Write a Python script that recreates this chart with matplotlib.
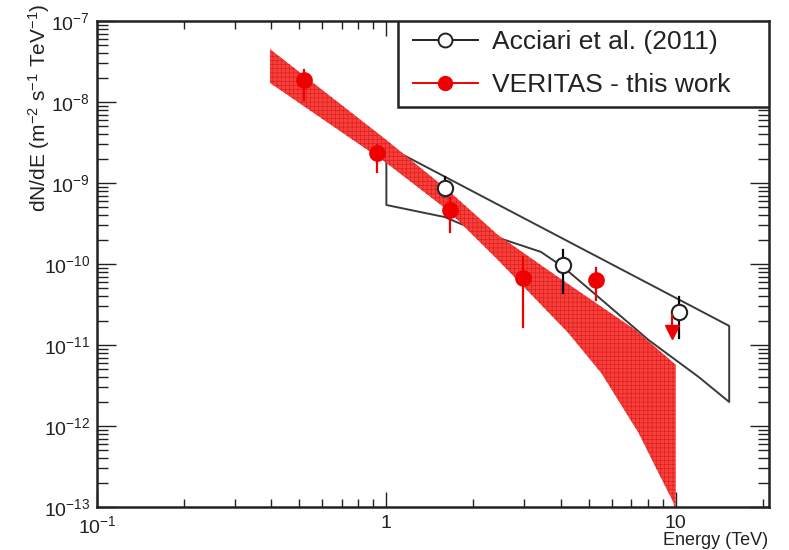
import numpy as np
import matplotlib
matplotlib.use('Agg')
from matplotlib import pyplot as plt
from matplotlib.lines import Line2D
from matplotlib.patches import Rectangle
from matplotlib.ticker import LogLocator, FuncFormatter

plt.rcParams['font.family'] = ['Liberation Sans', 'DejaVu Sans']
plt.rcParams['mathtext.fontset'] = 'custom'
plt.rcParams['mathtext.rm'] = 'Liberation Sans'
plt.rcParams['mathtext.it'] = 'Liberation Sans:italic'
plt.rcParams['mathtext.default'] = 'regular'
plt.rcParams['hatch.linewidth'] = 0.4

# VERITAS butterfly (upper / lower edges)
band_up_e = [0.396, 1.0, 1.63, 2.43, 3.92, 7.26, 10.0]
band_up_f = [4.5e-8, 3.4e-9, 8.2e-10, 2.28e-10, 6.9e-11, 1.53e-11, 5.7e-12]
band_lo_e = [0.396, 1.0, 1.63, 2.43, 4.25, 5.53, 7.44, 8.73, 9.84, 10.0]
band_lo_f = [1.72e-8, 1.77e-9, 4.6e-10, 1.12e-10, 1.41e-11, 4.5e-12, 8.2e-13, 2.6e-13, 1.12e-13, 5e-14]

# Acciari et al. (2011) butterfly
acc_up_e = [1.0, 15.3]
acc_up_f = [2.86e-9, 1.72e-11]
acc_lo_e = [1.0, 1.59, 1.81, 2.57, 3.42, 4.08, 5.40, 8.06, 12.0, 15.3]
acc_lo_f = [5.35e-10, 3.8e-10, 3.12e-10, 1.98e-10, 1.41e-10, 9.2e-11, 3.92e-11, 1.15e-11, 4.03e-12, 1.98e-12]

# VERITAS points
ver_e = [0.519, 0.93, 1.655, 2.97, 5.31]
ver_f = [1.87e-8, 2.34e-9, 4.64e-10, 6.7e-11, 6.3e-11]
ver_hi = [2.48e-8, 2.95e-9, 6.5e-10, 1.22e-10, 8.9e-11]
ver_lo = [1.06e-8, 1.37e-9, 2.48e-10, 1.67e-11, 3.6e-11]
ul_e = 9.67
ul_f = 1.44e-11
ul_top = 2.34e-11

# Acciari points
acc_e = [1.59, 4.08, 10.24]
acc_f = [8.7e-10, 9.7e-11, 2.55e-11]
acc_hi = [1.19e-9, 1.49e-10, 3.9e-11]
acc_lo = [6.9e-10, 4.4e-11, 1.22e-11]

labels = ['Acciari et al. (2011)', 'VERITAS - this work']

fig = plt.figure(figsize=(7.89, 5.50), dpi=100)
ax = fig.add_axes([97/789, 1-507/550, 672/789, 486/550])
ax.set_xscale('log')
ax.set_yscale('log')
ax.set_xlim(0.1, 21)
ax.set_ylim(1e-13, 1e-7)

# Acciari bowtie outline (closed)
poly_e = acc_up_e + acc_lo_e[::-1] + [acc_up_e[0]]
poly_f = acc_up_f + acc_lo_f[::-1] + [acc_up_f[0]]
ax.plot(poly_e, poly_f, color='#3a3a3a', lw=1.4, zorder=1)

# VERITAS band
be = band_up_e + band_lo_e[::-1]
bf = band_up_f + band_lo_f[::-1]
ax.fill(be, bf, facecolor='#f5403c', edgecolor='#dc1a1a', hatch='++++', lw=0, zorder=2)

# Acciari points
for e, f, hi, lo in zip(acc_e, acc_f, acc_hi, acc_lo):
    ax.plot([e, e], [lo, hi], color='black', lw=1.6, zorder=3)
ax.plot(acc_e, acc_f, 'o', ms=11, mfc='white', mec='#222222', mew=1.5, zorder=4)

# VERITAS points
for e, f, hi, lo in zip(ver_e, ver_f, ver_hi, ver_lo):
    ax.plot([e, e], [lo, hi], color='#ee0000', lw=1.6, zorder=5)
ax.plot(ver_e, ver_f, 'o', ms=11, color='#ee0000', zorder=6)
ax.plot([ul_e, ul_e], [ul_f, ul_top], color='#ee0000', lw=1.6, zorder=5)
ax.plot([ul_e], [ul_f], 'v', ms=10, color='#ee0000', zorder=6)

# ticks
ax.xaxis.set_major_locator(LogLocator(base=10, numticks=10))
ax.xaxis.set_minor_locator(LogLocator(base=10, subs=np.arange(2, 10), numticks=20))
ax.yaxis.set_major_locator(LogLocator(base=10, numticks=10))
ax.yaxis.set_minor_locator(LogLocator(base=10, subs=np.arange(2, 10), numticks=20))


def xfmt(v, pos):
    if abs(v - 1) < 1e-9:
        return '1'
    if abs(v - 10) < 1e-9:
        return '10'
    return '10$^{%d}$' % round(np.log10(v))


def yfmt(v, pos):
    return '10$^{%d}$' % round(np.log10(v))


ax.xaxis.set_major_formatter(FuncFormatter(xfmt))
ax.yaxis.set_major_formatter(FuncFormatter(yfmt))
ax.xaxis.set_minor_formatter(FuncFormatter(lambda v, p: ''))
ax.yaxis.set_minor_formatter(FuncFormatter(lambda v, p: ''))
ax.tick_params(axis='both', which='both', direction='in', top=True, right=True,
               width=1.0, colors='#222222', labelcolor='#222222')
ax.tick_params(axis='x', which='major', length=11, pad=6, labelsize=14)
ax.tick_params(axis='x', which='minor', length=6)
ax.tick_params(axis='y', which='major', length=14, pad=5, labelsize=14)
ax.tick_params(axis='y', which='minor', length=8)
for s in ax.spines.values():
    s.set_linewidth(1.8)
    s.set_color('#222222')

fig.text(39/789, 1 - 4/550, 'dN/dE (m$^{-2}$ s$^{-1}$ TeV$^{-1}$)', rotation=90,
         ha='center', va='top', fontsize=15, color='#222222')
fig.text(768/789, 1/550, 'Energy (TeV)', ha='right', va='bottom', fontsize=13,
         color='#222222')

# legend: box drawn separately, entries placed inside it
box = Rectangle((301/672, 1 - 86/486), 371/672, 86/486, transform=ax.transAxes,
                facecolor='white', edgecolor='#222222', lw=1.8, zorder=7)
ax.add_patch(box)
handles = [
    Line2D([], [], color='#222222', lw=1.4, marker='o', ms=10, mfc='white', mec='#222222', mew=1.4),
    Line2D([], [], color='#ee0000', lw=1.4, marker='o', ms=10, mfc='#ee0000', mec='#ee0000'),
]
leg = ax.legend(handles, labels, loc='upper left',
                bbox_to_anchor=((413-97)/672, 1 - 9/486), borderaxespad=0, borderpad=0,
                fontsize=19, handlelength=2.45, handletextpad=0.55,
                labelspacing=0.72, frameon=False)
leg.set_zorder(8)
for t in leg.get_texts():
    t.set_color('#222222')

fig.savefig('out.png', dpi=100)
